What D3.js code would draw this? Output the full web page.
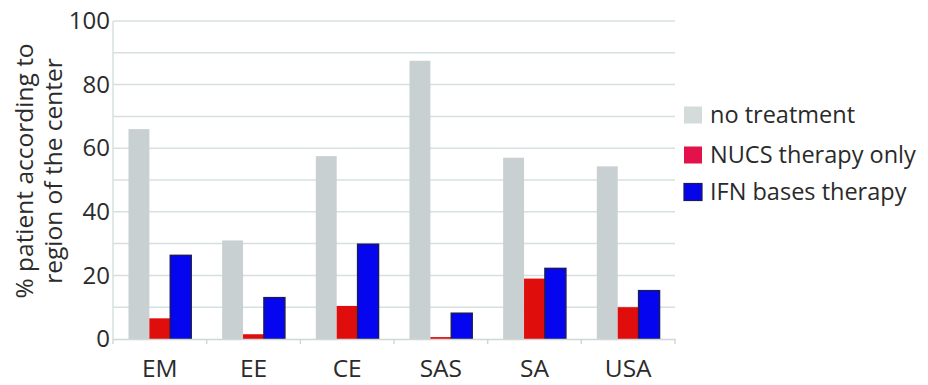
<!DOCTYPE html>
<html>
<head>
<meta charset="utf-8">
<script src="https://cdn.jsdelivr.net/npm/d3@7"></script>
<style>
  html, body { margin: 0; padding: 0; background: #fff; }
  svg { display: block; font-family: "Open Sans", sans-serif; }
</style>
</head>
<body>
<svg id="chart" width="928" height="385"></svg>
<script>
// Regions of the centre
const regions = ["EM", "EE", "CE", "SAS", "SA", "USA"];
// Series names
const seriesNames = ["no treatment", "NUCS therapy only", "IFN bases therapy"];
// % of patients per region, one array per series
const noTreatment = [66, 31, 57.5, 87.5, 57, 54.3];
const nucsOnly    = [6.5, 1.5, 10.4, 0.6, 19, 10];
const ifnBased    = [26.3, 13, 29.8, 8.1, 22.2, 15.2];
const yTicks = [0, 20, 40, 60, 80, 100];
const yGrid = [10, 20, 30, 40, 50, 60, 70, 80, 90, 100];

const barFill   = ["#c9d0d1", "#e00d0d", "#0505f0"];
const barStroke = ["none", "none", "#1a1a60"];
const swatchFill = ["#d3dbdb", "#e3124a", "#0505e8"];

const series = [noTreatment, nucsOnly, ifnBased];

const svg = d3.select("#chart");
const margin = { left: 113, right: 253, top: 21, bottom: 46 };
const W = 928, H = 385;

const x = d3.scaleBand().domain(regions).range([margin.left, W - margin.right]);
const x1 = d3.scaleBand().domain(d3.range(series.length))
  .range([0, x.bandwidth()]).paddingInner(0).paddingOuter(0.74);
const y = d3.scaleLinear().domain([0, 100]).range([H - margin.bottom, margin.top]);

// horizontal grid lines
svg.append("g").selectAll("line").data(yGrid).join("line")
  .attr("x1", margin.left).attr("x2", W - margin.right)
  .attr("y1", d => y(d)).attr("y2", d => y(d))
  .attr("stroke", "#d6e0e0").attr("stroke-width", 1.5);

// y axis line
svg.append("line")
  .attr("x1", margin.left).attr("x2", margin.left)
  .attr("y1", y(0)).attr("y2", y(100))
  .attr("stroke", "#d6e0e0").attr("stroke-width", 1.5);

// y tick labels
const yAxis = d3.axisLeft(y).tickValues(yTicks).tickSize(0).tickPadding(3);
const gy = svg.append("g").attr("transform", `translate(${margin.left},0)`).call(yAxis);
gy.select(".domain").remove();
gy.selectAll("text").attr("font-size", 24).attr("fill", "#2b2b2b")
  .attr("font-family", "Open Sans, sans-serif");

// bars
const groups = svg.append("g").selectAll("g").data(regions).join("g")
  .attr("transform", d => `translate(${x(d)},0)`);
groups.selectAll("rect")
  .data((d, i) => series.map((s, k) => ({ k, v: s[i] })))
  .join("rect")
  .attr("x", d => x1(d.k))
  .attr("width", x1.bandwidth())
  .attr("y", d => y(d.v))
  .attr("height", d => y(0) - y(d.v))
  .attr("fill", d => barFill[d.k])
  .attr("stroke", d => barStroke[d.k])
  .attr("stroke-width", 1.5);

// x axis
const xAxis = d3.axisBottom(x).tickSize(0).tickPadding(21);
const gx = svg.append("g").attr("transform", `translate(0,${y(0)})`).call(xAxis);
gx.select(".domain").attr("stroke", "#cfd8d8").attr("stroke-width", 1.5);
gx.selectAll("text").attr("font-size", 24.5).attr("fill", "#2b2b2b")
  .attr("font-family", "Open Sans, sans-serif");
// category separators
const seps = d3.range(regions.length + 1).map(i => margin.left + i * x.step());
svg.append("g").selectAll("line").data(seps).join("line")
  .attr("x1", d => d).attr("x2", d => d)
  .attr("y1", y(0)).attr("y2", y(0) + 5)
  .attr("stroke", "#cfd8d8").attr("stroke-width", 1.5);

// y axis title
const title = svg.append("text")
  .attr("transform", "translate(0,171) rotate(-90)")
  .attr("text-anchor", "middle")
  .attr("font-size", 24.5).attr("fill", "#2b2b2b");
title.append("tspan").attr("x", 0).attr("y", 33).text("% patient according to");
title.append("tspan").attr("x", 0).attr("y", 62).text("region of the center");

// legend
const legendY = [115, 155, 192];
const legend = svg.append("g").selectAll("g").data(seriesNames).join("g")
  .attr("transform", (d, i) => `translate(684,${legendY[i]})`);
legend.append("rect")
  .attr("x", 0).attr("y", -8.5).attr("width", 18).attr("height", 17)
  .attr("fill", (d, i) => swatchFill[i])
  .attr("stroke", (d, i) => i === 2 ? "#1a1a60" : "none").attr("stroke-width", 1.2);
legend.append("text")
  .attr("x", 26).attr("y", 8)
  .attr("font-size", 23.5).attr("fill", "#2a2a2a")
  .text(d => d);
</script>
</body>
</html>
